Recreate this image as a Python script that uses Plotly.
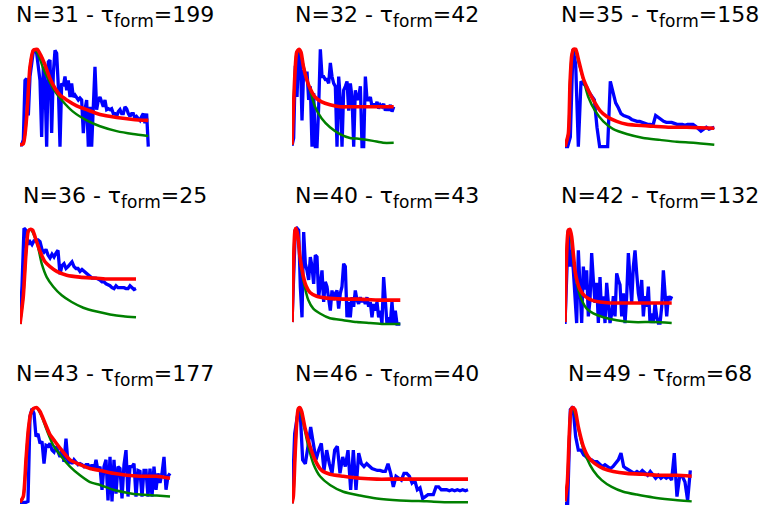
import numpy as np
import plotly.graph_objects as go

# ---------------- data ----------------
N_values = [31, 32, 35, 36, 40, 42, 43, 46, 49]
tau_form = [199, 42, 158, 25, 43, 132, 177, 40, 68]

# observed (blue), uniformly sampled over duration blue_dur_k
blue_1 = [2,2,7,68,70,32,72,89,98,99,96,82,68,10,82,65,0,87,89,14,75,99,96,62,0,65,62,72,58,68,
          51,65,51,53,51,48,50,48,14,38,48,0,41,0,41,82,38,48,51,45,41,48,38,39,38,39,34,34,31,36,
          38,34,34,41,39,34,31,34,34,29,31,29,27,31,34,24,34,0]
blue_dur_1 = 128.3
red_t_1 = [0,3.3,6.7,10,13.3,17.3,20.7,25,30,35,40,46.7,56.7,66.7,80,96.7,113,128.3]
red_1 = [2,3,31,82,99,100,94,84,70,60,53,48,42,38,33,30,28,27]
green_t_1 = [0,3.3,6.7,10,13.3,15,17,20,23.3,28,33,41.7,53,66.7,80,96.7,113,128.3]
green_1 = [2,3,31,82,99,100,97,90,80,70,60,48,36,27,21,16,13,11]

blue_2 = [1,9,83,51,100,93,27,79,72,77,48,62,0,55,0,0,41,100,72,72,69,69,65,86,72,65,62,0,72,48,
          0,58,62,67,37,65,51,0,58,48,51,62,0,0,72,48,48,51,41,44,41,46,39,43,41,44,37,41,37,43,36,41]
blue_dur_2 = 101.7
red_t_2 = [0,1.3,3,4.7,7,9,11.3,14.7,18,23,29.7,38,48,58,68,84.7,101.7]
red_2 = [2,37,76,97,100,97,83,69,60,51,46,43,41,41,41,41,41]
green_t_2 = [0,1.3,3,4.7,7,9.7,13,18,23,29.7,38,48,58,68,81,91,101.7]
green_2 = [2,37,76,97,100,91,76,58,41,29,20,13,9,8,6,4,4]

blue_3 = [0,0,10,100,85,0,67,65,62,56,52,48,20,0,0,0,0,67,55,45,40,34,32,31,30,28,27,26,26,25,
          24,23,23,22,32,30,27,26,25,25,25,24,23,23,23,22,23,23,23,21,18,16,18,20,18,19,20]
blue_dur_3 = 149.3
red_t_3 = [0,3.3,5,6.7,8.3,10.7,13.3,18.3,23.3,28.3,35,41.7,51.7,61.7,71.7,88.3,105,121.7,149.3]
red_3 = [0,13,65,93,100,100,90,70,58,48,37,31,26,23,22,21,20,20,19]
green_t_3 = [0,3.3,5,6.7,8.3,10.7,13.3,18.3,23.3,30,38.3,48.3,61.7,78.3,95,111.7,128.3,149.3]
green_3 = [0,13,65,93,100,98,88,69,51,37,26,18,13,9,7,5,4,2]

blue_4 = [0,40,100,98,83,86,83,87,88,88,86,78,75,78,72,69,73,70,74,77,52,61,63,58,60,63,65,60,58,58,
          55,57,55,53,51,50,48,48,48,47,46,44,44,42,41,40,38,37,40,38,38,38,38,37,37,40,38,36,37]
blue_dur_4 = 116
red_t_4 = [0,3.3,6,8.3,10.7,12.7,16,20,25,30,36.7,46.7,60,73.3,86.7,100,116]
red_4 = [0,29,74,97,99,98,88,76,65,60,55,51,49,48,47,47,47]
green_t_4 = [0,3.3,6,8.3,10.7,16.7,21.7,26.7,33.3,41.7,51.7,63.3,76.7,90,103.3,116]
green_4 = [0,29,74,97,99,86,63,49,39,30,23,17,13,10,8,7]

blue_5 = [2,56,98,100,98,39,7,96,63,56,46,70,60,42,72,70,28,42,56,23,44,39,28,14,35,25,32,35,16,32,
          39,63,60,7,23,7,28,18,35,25,21,28,23,26,21,28,18,23,7,21,14,23,7,14,0,49,25,0,7,0,
          23,0,14,0,0,0]
blue_dur_5 = 108.3
red_t_5 = [0,1.3,3,4,5.7,8,10.7,14,18,24.7,34.7,51.3,68,84.7,108.3]
red_5 = [2,56,98,100,93,70,53,40,33,29,27,26,26,25,25]
green_t_5 = [0,1.3,3,4,6.3,8.7,11.3,16.3,21.3,28,38,51.3,64.7,78,91.3,108.3]
green_5 = [2,56,98,100,86,63,46,25,16,11,6,4,2,1,0,0]

blue_6 = [0,56,98,60,77,56,29,1,77,43,1,60,36,56,8,25,74,46,22,43,1,49,8,29,1,43,15,1,11,29,
          8,53,46,41,8,32,1,29,74,46,22,60,77,53,32,22,46,8,29,18,39,1,11,1,22,8,1,1,18,56,
          25,8,29,25,29]
blue_dur_6 = 106.7
red_t_6 = [0,1.7,3.3,5,6.7,8.3,10,12.3,15,20,26.7,35,45,55,71.7,88.3,106.7]
red_6 = [2,74,98,99,91,74,56,44,36,29,25,23,22,22,22,22,22]
green_t_6 = [0,1.7,3.3,4.3,6.7,8.3,10.7,13.3,16.7,21.7,28.3,38.3,51.7,68.3,88.3,106.7]
green_6 = [2,74,98,99,84,67,49,36,25,16,11,7,4,2,2,1]

blue_7 = [1,1,1,1,2,90,98,93,69,72,62,64,41,60,59,62,55,53,59,52,48,55,43,67,41,45,41,45,43,40,
          41,40,38,40,40,36,40,34,45,34,38,14,38,45,3,48,2,45,10,38,36,5,40,55,7,38,38,41,7,34,
          33,7,34,34,7,36,7,38,14,31,21,31,48,14,28,31]
blue_dur_7 = 150
red_t_7 = [0,3.3,6,8.3,10.7,13.3,16.7,20,25,30,35,41.7,50,60,70,80,93.3,106.7,120,136.7,150]
red_7 = [1,7,45,76,93,98,99,95,83,71,64,55,45,40,36,34,31,29,28,28,26]
green_t_7 = [0,3.3,6,8.3,10.7,13.3,16.7,21.7,26.7,33.3,41.7,50,60,70,80,93.3,106.7,120,136.7,150]
green_7 = [1,7,45,76,93,98,99,90,76,60,48,38,29,22,19,14,11,9,8,7]

blue_8 = [0,72,90,98,45,41,59,79,62,45,55,62,34,55,41,31,55,59,31,48,38,55,14,55,14,52,41,38,41,38,
          36,35,34,34,33,33,41,31,17,28,26,24,31,31,28,21,24,14,16,5,7,9,9,9,17,17,14,14,14,13,
          14,13,14,13,14,13,14]
blue_dur_8 = 176
red_t_8 = [0,1.3,3,4.7,6.3,8,9.7,13,18,23,29.7,38,51.3,68,84.7,101,134.7,176]
red_8 = [0,7,48,83,98,99,95,78,59,45,34,30,28,26,25,25,25,25]
green_t_8 = [0,1.3,3,4.7,6.3,7.3,11.3,16.3,21.3,28,38,51.3,68,84.7,108,134.7,158,176]
green_8 = [0,7,48,83,98,99,83,59,41,28,19,12,8,5,3,2,1,1]

blue_9 = [0,0,97,100,69,55,55,50,48,45,45,43,43,41,38,40,38,36,38,41,45,52,38,36,34,33,31,33,31,34,
          31,29,33,29,26,29,26,28,26,28,24,52,7,28,28,22,3,34]
blue_dur_9 = 125.3
red_t_9 = [0,2.3,4.3,6,7.7,10,13.3,18.3,23.3,30,38.3,48.3,61.7,78.3,95,111.7,126.7]
red_9 = [2,21,72,97,99,97,79,59,48,41,36,33,31,30,29,29,28]
green_t_9 = [0,2.3,4.3,6,7.7,11.7,16.7,21.7,28.3,36.7,46.7,58.3,71.7,88.3,105,126.7]
green_9 = [2,21,72,97,99,86,62,47,34,24,17,12,9,6,4,2]

panels = [
    (blue_1, blue_dur_1, red_t_1, red_1, green_t_1, green_1),
    (blue_2, blue_dur_2, red_t_2, red_2, green_t_2, green_2),
    (blue_3, blue_dur_3, red_t_3, red_3, green_t_3, green_3),
    (blue_4, blue_dur_4, red_t_4, red_4, green_t_4, green_4),
    (blue_5, blue_dur_5, red_t_5, red_5, green_t_5, green_5),
    (blue_6, blue_dur_6, red_t_6, red_6, green_t_6, green_6),
    (blue_7, blue_dur_7, red_t_7, red_7, green_t_7, green_7),
    (blue_8, blue_dur_8, red_t_8, red_8, green_t_8, green_8),
    (blue_9, blue_dur_9, red_t_9, red_9, green_t_9, green_9),
]

# ---------------- layout geometry ----------------
W, H = 764, 509
col_left = [20, 292, 565]
col_w = 190
row_top = [49.3, 228.3, 406.7]     # pixel of value 100
row_bot = [146.7, 324.0, 503.3]    # pixel of value 0
YPAD = 3
title_baseline = [23.3, 203.5, 381.7]

fig = go.Figure()
layout = dict(width=W, height=H, margin=dict(l=0, r=0, t=0, b=0),
              paper_bgcolor="white", plot_bgcolor="white", showlegend=False)
annotations = []

for k, (b, bdur, rt, rv, gt, gv) in enumerate(panels):
    r, c = divmod(k, 3)
    idx = k + 1
    xa = "x" if idx == 1 else f"x{idx}"
    ya = "y" if idx == 1 else f"y{idx}"
    bt = np.linspace(0, bdur, len(b))
    fig.add_trace(go.Scatter(x=bt, y=b, mode="lines", xaxis=xa, yaxis=ya,
                             line=dict(color="#0000FF", width=3.3)))
    fig.add_trace(go.Scatter(x=gt, y=gv, mode="lines", xaxis=xa, yaxis=ya,
                             line=dict(color="#008000", width=2.5, shape="spline", smoothing=0.6)))
    fig.add_trace(go.Scatter(x=rt, y=rv, mode="lines", xaxis=xa, yaxis=ya,
                             line=dict(color="#FF0000", width=3.6, shape="spline", smoothing=0.6)))
    ppu = (row_bot[r] - row_top[r]) / 100.0
    pt = row_top[r] - YPAD * ppu
    pb = row_bot[r] + YPAD * ppu
    axx = dict(domain=[col_left[c] / W, (col_left[c] + col_w) / W], range=[0, 190],
               visible=False, showgrid=False, zeroline=False, fixedrange=True,
               anchor=ya)
    axy = dict(domain=[1 - pb / H, 1 - pt / H], range=[-YPAD, 100 + YPAD],
               visible=False, showgrid=False, zeroline=False, fixedrange=True,
               anchor=xa)
    layout["xaxis" if idx == 1 else f"xaxis{idx}"] = axx
    layout["yaxis" if idx == 1 else f"yaxis{idx}"] = axy
    annotations.append(dict(
        text=(f"N={N_values[k]} - τ<sub><span style='font-size:17px'>form</span></sub>"
              f"={tau_form[k]}"),
        x=(col_left[c] + col_w / 2) / W, xref="paper", xanchor="center",
        y=1 - (title_baseline[r] + 10) / H, yref="paper", yanchor="bottom",
        showarrow=False, font=dict(family="DejaVu Sans", size=22, color="black")))

layout["annotations"] = annotations
fig.update_layout(**layout)
fig.write_html("out.html")
